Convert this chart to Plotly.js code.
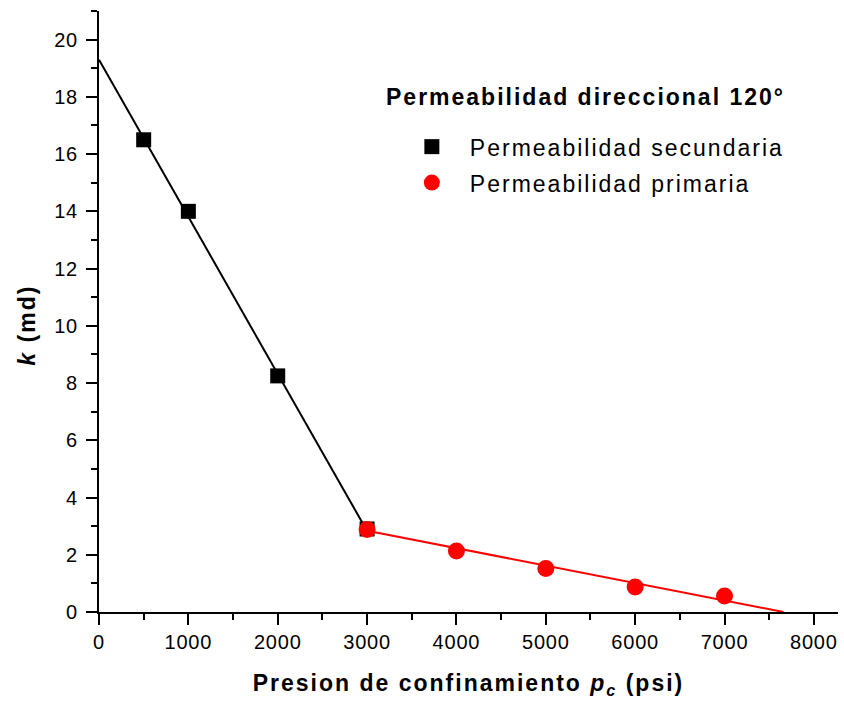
<!DOCTYPE html>
<html>
<head>
<meta charset="utf-8">
<script src="https://cdn.plot.ly/plotly-3.0.1.min.js"></script>
<style>
  html, body { margin: 0; padding: 0; background: #fff; }
  #chart { width: 844px; height: 704px; }
  /* slightly open letter spacing for the chart's text */
  #chart .xtick text, #chart .ytick text { letter-spacing: 0.8px; }
  #chart .legendtext, #chart .xtitle, #chart .annotation-text { letter-spacing: 2px; }
  /* let the spaced-out legend labels run past the measured legend box */
  #chart .legend .scrollbox { clip-path: none !important; }
</style>
</head>
<body>
<div id="chart"></div>
<script>
// Secondary permeability (black squares)
const secPressure = [500, 1000, 2000, 3000];
const secK = [16.5, 14.0, 8.25, 2.9];

// Primary permeability (red circles)
const priPressure = [3000, 4000, 5000, 6000, 7000];
const priK = [2.88, 2.13, 1.52, 0.87, 0.56];

// Straight-line trends drawn through each group
const secTrendX = [0, 3000];
const secTrendY = [19.3, 2.83];
const priTrendX = [3000, 7660];
const priTrendY = [2.84, 0];

const xTicks = [0, 1000, 2000, 3000, 4000, 5000, 6000, 7000, 8000];
const yTicks = [0, 2, 4, 6, 8, 10, 12, 14, 16, 18, 20];

const FONT = 'Liberation Sans, Arial, sans-serif';

const traces = [
  {
    x: secTrendX, y: secTrendY, mode: 'lines', showlegend: false, hoverinfo: 'skip',
    line: { color: '#000000', width: 2 }
  },
  {
    x: priTrendX, y: priTrendY, mode: 'lines', showlegend: false, hoverinfo: 'skip',
    line: { color: '#ff0000', width: 2 }
  },
  {
    x: secPressure, y: secK, mode: 'markers', name: 'Permeabilidad secundaria',
    legendgroup: 'a',
    marker: { symbol: 'square', size: 15, color: '#000000' }
  },
  {
    x: priPressure, y: priK, mode: 'markers', name: 'Permeabilidad primaria',
    legendgroup: 'b',
    marker: { symbol: 'circle', size: 17, color: '#ff0000' }
  }
];

const layout = {
  width: 844, height: 704,
  margin: { l: 99, r: 6, t: 11, b: 92 },
  paper_bgcolor: '#ffffff', plot_bgcolor: '#ffffff',
  font: { family: FONT, color: '#000000', size: 20 },
  showlegend: true,
  legend: {
    x: 0.399, y: 0.81, xanchor: 'left', yanchor: 'top',
    bgcolor: 'rgba(0,0,0,0)', borderwidth: 0,
    font: { family: FONT, size: 23, color: '#000000' },
    traceorder: 'grouped', tracegroupgap: 3, itemwidth: 66
  },
  xaxis: {
    range: [0, 8270], tickvals: xTicks, ticktext: xTicks.map(String),
    showgrid: false, zeroline: false, showline: true, linecolor: '#000000', linewidth: 2,
    ticks: 'outside', ticklen: 11, tickwidth: 2, tickcolor: '#000000',
    minor: { dtick: 500, tick0: 0, ticks: 'outside', ticklen: 6, tickwidth: 2, tickcolor: '#000000' },
    tickfont: { family: FONT, size: 20 },
    title: {
      text: '<b>Presion de confinamiento <i>p</i><sub><i>c</i></sub> (psi)</b>',
      font: { family: FONT, size: 23 }, standoff: 23
    }
  },
  yaxis: {
    range: [0, 21], tickvals: yTicks, ticktext: yTicks.map(String),
    showgrid: false, zeroline: false, showline: true, linecolor: '#000000', linewidth: 2,
    ticks: 'outside', ticklen: 11, tickwidth: 2, tickcolor: '#000000',
    minor: { dtick: 1, tick0: 0, ticks: 'outside', ticklen: 6, tickwidth: 2, tickcolor: '#000000' },
    tickfont: { family: FONT, size: 20 }, ticklabelstandoff: 4
  },
  annotations: [
    {
      // y-axis title
      xref: 'paper', yref: 'paper', x: -0.097, y: 0.477,
      xanchor: 'center', yanchor: 'middle', showarrow: false, textangle: -90,
      text: '<b><i>k</i> (md)</b>',
      font: { family: FONT, size: 23, color: '#000000' }
    },
    {
      // legend heading
      xref: 'paper', yref: 'paper', x: 0.426, y: 0.857,
      xanchor: 'left', yanchor: 'middle', showarrow: false,
      text: '<b>Permeabilidad direccional 120°</b>',
      font: { family: FONT, size: 23, color: '#000000' }
    }
  ]
};

Plotly.newPlot('chart', traces, layout, { displayModeBar: false, staticPlot: true });
</script>
</body>
</html>
